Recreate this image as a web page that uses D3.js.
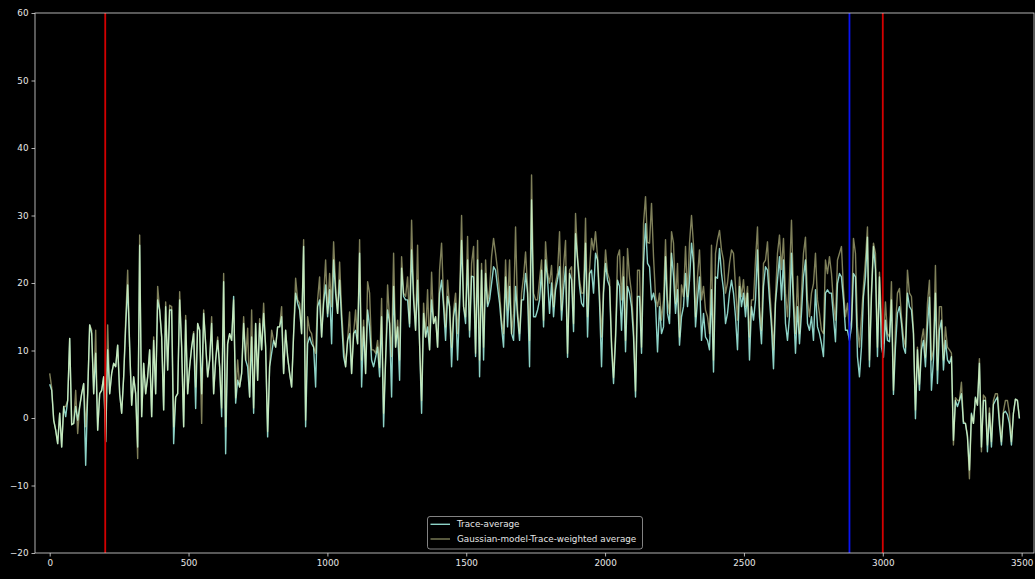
<!DOCTYPE html>
<html><head><meta charset="utf-8">
<script src="https://cdn.jsdelivr.net/npm/d3@7/dist/d3.min.js"></script>
<style>html,body{margin:0;padding:0;background:#000;} svg{display:block;}</style>
</head><body><svg id="c" width="1035" height="579"></svg>
<script>
// ---- data ----
const sampleStep = 7.2; // x spacing between samples
const traceAverage = [
5.0,4.1,-0.3,-1.8,-3.8,0.7,-4.3,1.7,0.2,2.6,
11.8,-1.0,-0.8,1.7,-0.3,1.7,3.6,5.1,-7.0,3.6,
13.8,12.5,3.6,9.6,-1.8,3.6,4.1,6.1,-3.5,10.1,
3.6,6.6,8.1,7.6,10.8,3.6,0.7,6.1,13.5,19.7,
10.5,1.9,6.1,3.6,-4.3,25.6,0.2,8.1,3.6,6.1,
10.1,0.2,11.5,3.6,17.5,16.0,12.0,1.2,16.5,7.1,
16.0,16.0,-3.8,3.1,3.6,17.5,10.5,-1.3,14.5,3.6,
7.6,10.5,12.5,1.4,14.0,13.0,3.6,15.5,11.0,6.1,
8.6,
14.0,3.6,8.6,11.5,7.6,0.2,20.2,-5.3,11.0,12.5,
11.5,18.0,2.2,5.6,4.6,6.6,14.0,8.6,7.6,3.1,
12.0,0.7,14.0,5.6,14.0,10.1,15.5,10.5,-2.8,7.6,
9.6,11.5,10.5,13.5,13.5,15.0,6.6,13.0,9.1,6.6,
4.6,12.5,18.5,17.0,16.0,12.5,25.4,-1.3,11.0,12.0,
11.0,10.5,4.6,16.5,17.5,12.0,17.0,19.7,15.0,19.0,
11.0,23.4,18.5,15.5,20.4,14.5,9.1,7.6,11.5,12.5,
6.6,12.5,13.0,11.0,24.4,4.6,13.5,6.6,16.0,13.5,
8.6,7.6,9.0,10.5,6.1,15.0,-1.3,8.6,16.0,14.0,
3.1,19.5,10.5,13.5,5.6,22.2,18.0,17.5,17.5,13.5,
24.9,17.5,13.0,20.4,11.0,0.7,15.5,12.0,13.5,10.1,
17.5,14.0,15.0,10.5,18.5,20.4,16.5,11.5,18.0,16.5,
7.6,15.0,17.0,8.6,16.5,26.3,16.5,14.0,23.4,12.0,
21.0,20.9,9.1,23.4,6.1,21.9,8.6,21.4,16.5,17.5,
19.9,22.4,21.9,19.4,17.0,13.5,10.5,20.9,13.5,19.5,
12.5,11.5,19.5,15.0,11.5,17.5,17.5,21.4,18.5,7.6,
32.3,15.0,
15.0,16.0,17.5,21.9,13.5,23.4,20.5,15.5,20.0,15.0,
19.0,20.5,22.4,14.5,19.0,22.4,9.0,21.4,20.5,12.8,
27.3,23.4,19.5,17.0,16.5,25.9,12.0,21.4,21.9,18.5,
24.4,23.4,17.0,7.6,18.5,22.9,20.4,19.5,10.5,5.1,
11.5,20.4,19.5,13.0,20.9,9.8,19.5,18.5,16.5,12.0,
3.1,18.0,18.0,9.6,22.9,28.8,22.9,22.4,17.5,18.5,
17.0,9.8,16.5,12.5,13.5,23.9,15.5,14.0,24.4,21.0,
15.5,19.0,10.8,15.0,16.5,21.4,16.5,20.4,25.9,22.9,
13.5,17.5,20.9,
11.5,15.5,12.0,11.5,10.1,19.0,6.8,20.9,20.7,25.1,
21.4,19.0,14.0,15.5,18.5,20.4,18.5,15.0,10.1,19.5,
16.5,18.5,15.0,18.5,8.6,16.5,14.5,17.5,24.9,15.0,
11.0,19.5,22.4,21.9,17.5,13.5,7.3,17.0,20.4,23.9,
17.5,23.4,14.0,11.5,15.0,24.4,16.5,9.6,16.5,11.0,
15.5,20.9,23.4,14.0,13.0,15.0,11.5,19.0,13.5,12.5,
11.0,9.1,18.5,19.0,18.5,18.5,15.0,11.3,19.9,21.4,
20.9,17.5,13.0,13.0,11.5,13.5,21.4,20.9,9.1,6.1,
10.5,18.0,
20.9,26.8,7.6,18.0,25.4,22.0,9.1,20.9,10.5,9.0,
14.5,11.5,11.3,17.5,3.5,10.5,15.5,16.5,14.0,10.5,
9.6,18.5,16.5,16.0,12.5,-0.1,10.1,4.1,10.1,11.5,
7.6,13.5,17.9,4.1,8.6,18.5,5.1,13.0,14.5,7.1,
11.5,8.6,8.1,9.1,-3.3,2.6,1.7,2.6,3.6,-0.8,
-0.8,-2.8,-7.7,0.7,-0.8,3.1,1.9,8.1,-4.3,2.6,
2.6,-5.0,0.7,-4.3,2.0,2.6,3.1,-1.0,-4.0,0.7,
1.0,0.5,-0.8,-4.0,0.7,2.8,2.6,-0.1
];
const gaussianWeighted = [
6.6,4.5,-0.3,-1.8,-3.8,0.7,-4.3,1.7,1.7,2.6,
11.8,-1.0,-0.8,4.1,-2.3,1.7,3.6,5.1,-1.3,3.6,
13.8,13.0,3.6,13.0,-1.8,3.6,4.1,6.1,-3.5,13.8,
3.6,6.6,8.1,7.6,10.8,3.6,0.7,6.1,14.5,21.9,
10.5,1.9,6.1,3.6,-6.0,27.1,0.2,8.1,3.6,6.1,
10.1,0.2,12.0,3.6,19.5,16.0,12.0,1.2,17.2,7.1,
16.7,16.5,-1.3,3.1,3.6,18.7,10.5,-1.3,15.2,3.6,
7.6,10.5,12.8,4.6,14.0,13.0,-0.8,16.0,11.0,6.1,
8.6,
15.0,3.6,8.6,12.0,7.6,1.5,21.4,-1.3,11.0,12.5,
11.5,17.5,3.0,8.6,4.6,6.6,15.0,8.6,13.3,3.1,
16.0,1.5,14.0,5.6,14.7,10.1,17.0,10.5,-2.0,7.6,
13.0,11.5,10.5,13.5,13.5,16.5,6.6,13.0,9.1,6.6,
4.6,12.5,20.7,17.5,17.0,12.5,26.4,-0.3,15.0,13.0,
12.5,10.5,9.6,17.5,20.9,12.0,18.0,23.4,15.5,21.4,
16.5,26.1,19.5,15.5,23.1,16.0,11.0,7.6,11.5,15.7,
6.6,12.5,16.0,11.0,26.4,8.6,14.5,6.6,20.2,18.5,
10.1,10.1,9.6,11.5,7.5,17.7,0.7,8.6,19.7,14.5,
9.1,24.4,10.5,14.5,8.6,23.9,18.5,18.0,20.9,14.0,
29.3,18.5,13.0,25.6,11.0,2.6,17.0,12.0,19.0,10.1,
21.6,14.0,15.0,10.5,21.9,25.9,17.5,13.5,20.4,16.5,
10.5,16.0,18.5,12.5,18.0,30.0,16.5,15.0,26.9,13.0,
22.9,25.4,9.6,26.3,8.6,22.9,10.5,23.4,17.0,19.0,
23.9,26.6,24.4,21.9,18.5,14.5,12.5,23.4,16.0,23.4,
12.5,15.5,28.3,16.0,12.5,18.5,20.9,24.6,19.5,11.5,
36.0,18.5,
17.5,17.5,20.5,23.4,14.5,26.1,21.5,20.0,22.6,16.5,
20.0,21.5,27.6,16.0,22.4,26.3,9.6,21.9,22.4,14.0,
30.3,23.9,20.5,18.5,18.5,29.6,15.0,22.0,26.6,24.9,
27.6,23.9,18.5,12.0,19.5,24.9,21.5,20.5,11.5,6.0,
12.5,23.9,24.9,17.5,23.9,11.5,25.1,20.9,18.5,13.5,
4.0,21.9,21.9,10.5,28.8,32.8,26.0,25.9,31.8,23.9,
18.0,16.5,18.5,14.5,17.5,26.4,17.5,15.5,27.6,25.9,
17.0,22.9,12.0,19.7,18.0,25.4,18.0,25.9,30.0,25.6,
15.0,20.9,24.9,
17.5,19.5,16.0,15.0,12.5,25.6,8.6,24.4,26.4,27.8,
24.9,23.4,18.5,20.0,22.9,24.9,24.4,19.5,14.5,20.9,
18.0,20.5,16.5,19.5,12.0,17.5,17.5,23.4,28.3,16.5,
13.0,22.9,23.4,26.1,19.5,15.0,10.1,18.0,24.4,27.1,
22.0,26.6,18.5,15.0,20.9,29.3,18.5,12.5,21.0,12.5,
18.5,24.4,26.8,17.5,15.0,18.5,19.9,24.4,17.5,15.5,
13.0,12.5,23.4,21.4,23.9,21.4,17.0,14.5,23.4,24.4,
25.4,19.0,15.0,17.0,13.0,14.5,26.6,24.4,13.5,10.5,
15.0,19.5,
23.4,28.3,8.6,19.0,25.9,24.4,10.5,21.6,14.5,11.0,
17.2,12.5,12.0,20.2,4.1,13.5,18.5,19.2,15.0,12.0,
10.5,21.9,18.5,18.0,13.0,1.2,10.5,5.0,11.5,13.2,
9.0,17.0,20.4,8.6,10.1,22.6,7.1,16.5,16.5,8.6,
13.5,10.5,10.1,9.6,-4.0,3.0,2.6,2.6,5.3,-0.5,
-0.8,-2.5,-9.0,0.5,-0.8,3.0,1.9,8.8,-5.0,3.4,
3.0,-4.0,1.5,-3.5,2.6,3.6,3.6,0.0,-3.5,1.0,
2.6,2.6,0.7,-3.5,0.7,2.8,2.6,0.0
];
const seriesNames = ["Trace-average", "Gaussian-model-Trace-weighted average"];
const redLines = [200, 3000];
const blueLines = [2880];
const xTicks = [0, 500, 1000, 1500, 2000, 2500, 3000, 3500];
const yTicks = [-20, -10, 0, 10, 20, 30, 40, 50, 60];

(function () {
  const W = 1035, H = 579;
  const pL = 35, pR = 1034, pT = 13, pB = 553;
  const svg = d3.select("#c");
  svg.append("rect").attr("width", W).attr("height", H).attr("fill", "#000");

  const x = d3.scaleLinear().domain([-52.9, 3544.5]).range([pL, pR]);
  const y = d3.scaleLinear().domain([-20, 60]).range([pB, pT]);

  svg.append("defs").append("clipPath").attr("id", "clip")
    .append("rect").attr("x", pL).attr("y", pT).attr("width", pR - pL).attr("height", pB - pT);

  const font = "'DejaVu Sans', sans-serif";
  const fs = 8.8;

  const gx = svg.append("g").attr("transform", `translate(0,${pB})`)
    .call(d3.axisBottom(x).tickValues(xTicks).tickSize(3.5).tickPadding(3).tickFormat(d3.format("d")));
  const gy = svg.append("g").attr("transform", `translate(${pL},0)`)
    .call(d3.axisLeft(y).tickValues(yTicks).tickSize(3.5).tickPadding(3).tickFormat(d => d < 0 ? "\u2212" + Math.abs(d) : d));
  [gx, gy].forEach(g => {
    g.select(".domain").remove();
    g.selectAll(".tick line").attr("stroke", "#ddd").attr("stroke-width", 0.8);
    g.selectAll(".tick text").attr("fill", "#e6e6e6").style("font-family", font).style("font-size", fs + "px");
  });

  const plot = svg.append("g").attr("clip-path", "url(#clip)");
  const line = d3.line().x((d, i) => x(i * sampleStep)).y(d => y(d));
  plot.append("path").datum(traceAverage).attr("d", line)
    .attr("fill", "none").attr("stroke", "#8dd3c7").attr("stroke-width", 1.4).attr("stroke-linejoin", "round");
  plot.append("path").datum(gaussianWeighted).attr("d", line)
    .attr("fill", "none").attr("stroke", "#feffb3").attr("stroke-opacity", 0.5).attr("stroke-width", 1.4).attr("stroke-linejoin", "round");

  plot.selectAll(".red").data(redLines).enter().append("line")
    .attr("x1", d => x(d)).attr("x2", d => x(d)).attr("y1", pT).attr("y2", pB)
    .attr("stroke", "#d40000").attr("stroke-width", 1.8);
  plot.selectAll(".blue").data(blueLines).enter().append("line")
    .attr("x1", d => x(d)).attr("x2", d => x(d)).attr("y1", pT).attr("y2", pB)
    .attr("stroke", "#0a14f0").attr("stroke-width", 1.8);

  svg.append("rect").attr("x", pL).attr("y", pT).attr("width", pR - pL).attr("height", pB - pT)
    .attr("fill", "none").attr("stroke", "#ddd").attr("stroke-width", 0.8);

  const lg = svg.append("g");
  lg.append("rect").attr("x", 427.5).attr("y", 516.5).attr("width", 215).attr("height", 32.5).attr("rx", 2.5)
    .attr("fill", "#000").attr("fill-opacity", 0.8).attr("stroke", "#ccc").attr("stroke-opacity", 0.8).attr("stroke-width", 0.8);
  const legendItems = [
    {name: seriesNames[0], color: "#8dd3c7", op: 1},
    {name: seriesNames[1], color: "#feffb3", op: 0.5}
  ];
  legendItems.forEach((it, i) => {
    const cy = 524.3 + i * 14.7;
    lg.append("line").attr("x1", 430.5).attr("x2", 450).attr("y1", cy).attr("y2", cy)
      .attr("stroke", it.color).attr("stroke-opacity", it.op).attr("stroke-width", 1.4);
    lg.append("text").attr("x", 457).attr("y", cy).attr("dy", "0.35em")
      .attr("fill", "#e6e6e6").style("font-family", font).style("font-size", fs + "px").text(it.name);
  });
})();
</script></body></html>
